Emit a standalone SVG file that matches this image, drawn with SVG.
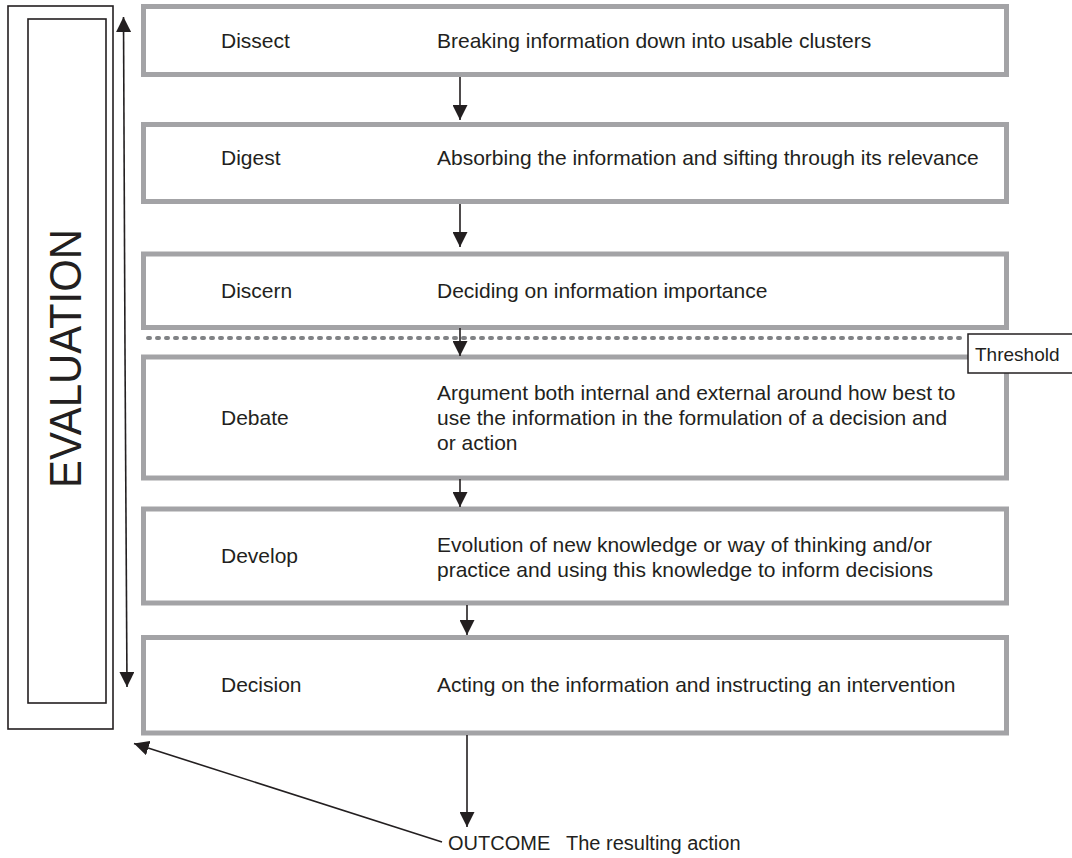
<svg xmlns="http://www.w3.org/2000/svg" width="1072" height="858" viewBox="0 0 1072 858">
<style>
  .box { fill: #ffffff; stroke: #a3a3a6; stroke-width: 5; }
  .t { font-family: "Liberation Sans", Arial, Helvetica, sans-serif; font-size: 21px; fill: #231f20; }
  .line { stroke: #231f20; stroke-width: 1.6; fill: none; }
  .frame { fill: none; stroke: #231f20; stroke-width: 1.6; }
</style>
<defs>
  <marker id="ah" viewBox="0 0 10 10" refX="10" refY="5" markerWidth="15" markerHeight="15" markerUnits="userSpaceOnUse" orient="auto">
    <path d="M0,0 L10,5 L0,10 z" fill="#231f20"/>
  </marker>
</defs>
<rect width="1072" height="858" fill="#ffffff"/>

<g id="evaluation">
  <rect class="frame" x="8" y="6" width="105" height="723"/>
  <rect class="frame" x="28" y="19" width="78" height="684"/>
  <text class="t" transform="translate(81,358.5) rotate(-90)" text-anchor="middle" style="font-size:44px" textLength="259" lengthAdjust="spacingAndGlyphs">EVALUATION</text>
</g>

<g id="dissect">
  <rect class="box" x="143.5" y="6.5" width="863" height="68"/>
  <text class="t" x="221" y="48">Dissect</text>
  <text class="t" x="437" y="48">Breaking information down into usable clusters</text>
</g>

<g id="digest">
  <rect class="box" x="143.5" y="124.5" width="863" height="77"/>
  <text class="t" x="221" y="165">Digest</text>
  <text class="t" x="437" y="165">Absorbing the information and sifting through its relevance</text>
</g>

<g id="discern">
  <rect class="box" x="143.5" y="254" width="863" height="73.5"/>
  <text class="t" x="221" y="298">Discern</text>
  <text class="t" x="437" y="298">Deciding on information importance</text>
</g>

<g id="debate">
  <rect class="box" x="143.5" y="357" width="863" height="121"/>
  <text class="t" x="221" y="425">Debate</text>
  <text class="t" x="437" y="400">Argument both internal and external around how best to</text>
  <text class="t" x="437" y="425">use the information in the formulation of a decision and</text>
  <text class="t" x="437" y="450">or action</text>
</g>

<g id="develop">
  <rect class="box" x="143.5" y="509" width="863" height="94"/>
  <text class="t" x="221" y="563">Develop</text>
  <text class="t" x="437" y="552">Evolution of new knowledge or way of thinking and/or</text>
  <text class="t" x="437" y="577">practice and using this knowledge to inform decisions</text>
</g>

<g id="decision">
  <rect class="box" x="143.5" y="637.5" width="863" height="95.5"/>
  <text class="t" x="221" y="692">Decision</text>
  <text class="t" x="437" y="692">Acting on the information and instructing an intervention</text>
</g>

<g id="outcome">
  <text class="t" x="448" y="850" style="font-size:20px">OUTCOME</text>
  <text class="t" x="566" y="850" style="font-size:20px">The resulting action</text>
</g>

<g id="connectors">
  <line x1="148" y1="338" x2="966" y2="338" stroke="#808285" stroke-width="4" stroke-dasharray="2 7" stroke-linecap="round"/>
  <line class="line" x1="460" y1="77" x2="460" y2="120" marker-end="url(#ah)"/>
  <line class="line" x1="460" y1="204" x2="460" y2="247" marker-end="url(#ah)"/>
  <line class="line" x1="460" y1="328" x2="460" y2="356" marker-end="url(#ah)"/>
  <line class="line" x1="460" y1="479" x2="460" y2="507" marker-end="url(#ah)"/>
  <line class="line" x1="467" y1="605" x2="467" y2="635" marker-end="url(#ah)"/>
  <line class="line" x1="467" y1="735" x2="467" y2="827" marker-end="url(#ah)"/>
  <line class="line" x1="442" y1="842" x2="134" y2="743.5" marker-end="url(#ah)"/>
  <line class="line" x1="125" y1="352" x2="123.5" y2="17" marker-end="url(#ah)"/>
  <line class="line" x1="125" y1="352" x2="127" y2="687" marker-end="url(#ah)"/>
</g>

<g id="threshold">
  <rect x="968" y="334" width="110" height="39" fill="#ffffff" stroke="#231f20" stroke-width="1.5"/>
  <text class="t" x="975" y="361" style="font-size:19px">Threshold</text>
</g>
</svg>
